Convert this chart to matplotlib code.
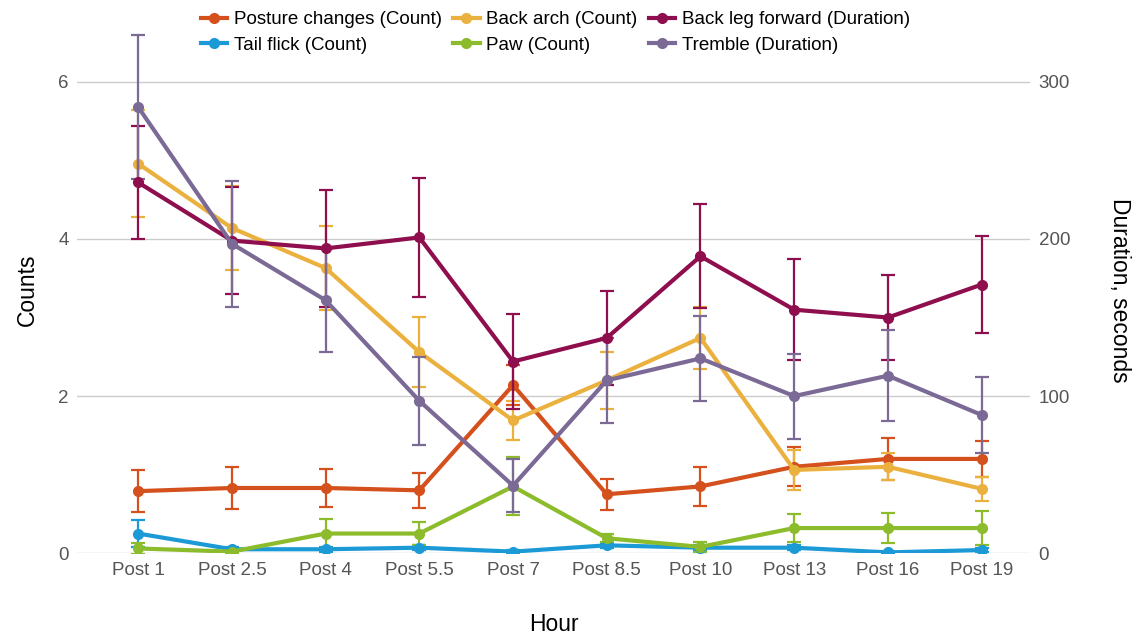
import numpy as np
import matplotlib
matplotlib.use("Agg")
import matplotlib.pyplot as plt

plt.rcParams['font.family'] = ['Liberation Sans', 'DejaVu Sans']

hours = ['Post 1', 'Post 2.5', 'Post 4', 'Post 5.5', 'Post 7',
         'Post 8.5', 'Post 10', 'Post 13', 'Post 16', 'Post 19']

# counts (left axis)
posture = [0.79, 0.83, 0.83, 0.80, 2.14, 0.75, 0.85, 1.10, 1.20, 1.20]
posture_err = [0.27, 0.27, 0.24, 0.22, 0.25, 0.20, 0.25, 0.25, 0.27, 0.23]
arch = [4.96, 4.14, 3.63, 2.56, 1.69, 2.20, 2.74, 1.06, 1.10, 0.82]
arch_err = [0.68, 0.54, 0.53, 0.45, 0.25, 0.36, 0.40, 0.25, 0.17, 0.15]
tail = [0.25, 0.05, 0.05, 0.07, 0.02, 0.10, 0.07, 0.07, 0.01, 0.04]
tail_err = [0.17, 0.03, 0.03, 0.03, 0.02, 0.03, 0.03, 0.03, 0.02, 0.03]
paw = [0.06, 0.02, 0.25, 0.25, 0.85, 0.19, 0.08, 0.32, 0.32, 0.32]
paw_err = [0.07, 0.02, 0.19, 0.15, 0.37, 0.05, 0.06, 0.18, 0.19, 0.22]

# durations in seconds (right axis)
backleg = [236, 199, 194, 201, 122, 137, 189, 155, 150, 171]
backleg_err = [36, 34, 37, 38, 30, 30, 33, 32, 27, 31]
tremble = [284, 197, 161, 97, 43, 110, 124, 100, 113, 88]
tremble_err = [46, 40, 33, 28, 17, 27, 27, 27, 29, 24]

c_posture = '#D4501C'
c_arch = '#EBB13F'
c_backleg = '#8E0E4E'
c_tail = '#1C9AD6'
c_paw = '#8CBB2C'
c_tremble = '#7B6A96'

fig = plt.figure(figsize=(11.36, 6.41), dpi=100)
ax = fig.add_axes([0.068, 0.137, 0.839, 0.821])
ax2 = ax.twinx()

x = np.arange(len(hours))
ymax = 6.7
kw = dict(lw=3.0, marker='o', ms=7, elinewidth=1.6, capsize=5, capthick=1.6)

handles = {}
handles['Posture changes (Count)'] = ax.errorbar(x, posture, yerr=posture_err, color=c_posture, **kw)
handles['Back arch (Count)'] = ax.errorbar(x, arch, yerr=arch_err, color=c_arch, **kw)
handles['Tail flick (Count)'] = ax.errorbar(x, tail, yerr=tail_err, color=c_tail, **kw)
handles['Paw (Count)'] = ax.errorbar(x, paw, yerr=paw_err, color=c_paw, **kw)
handles['Back leg forward (Duration)'] = ax2.errorbar(x, backleg, yerr=backleg_err, color=c_backleg, **kw)
handles['Tremble (Duration)'] = ax2.errorbar(x, tremble, yerr=tremble_err, color=c_tremble, **kw)

ax.set_xlim(-0.65, 9.52)
ax.set_ylim(0, ymax)
ax2.set_ylim(0, ymax * 50)
ax.set_yticks([0, 2, 4, 6])
ax2.set_yticks([0, 100, 200, 300])
ax.set_xticks(x)
ax.set_xticklabels(hours)

ax.grid(axis='y', color='#cccccc', lw=1)
ax.set_axisbelow(True)
for a in (ax, ax2):
    for s in a.spines.values():
        s.set_visible(False)
    a.tick_params(length=0, labelsize=13.5, labelcolor='#555555', pad=6)

ax.set_xlabel('Hour', fontsize=16.5, labelpad=25)
ax.set_ylabel('Counts', fontsize=16.5, labelpad=14)
ax2.set_ylabel('Duration, seconds', fontsize=16.5, rotation=270, labelpad=44)

order = ['Posture changes (Count)', 'Tail flick (Count)',
         'Back arch (Count)', 'Paw (Count)',
         'Back leg forward (Duration)', 'Tremble (Duration)']
leg_handles = [plt.Line2D([], [], color=handles[k][0].get_color(), lw=3.0,
                          marker='o', ms=7) for k in order]
fig.legend(leg_handles, order, ncol=3, loc='upper left',
           bbox_to_anchor=(0.162, 1.009), frameon=False, fontsize=13.5,
           handlelength=1.4, handletextpad=0.35, columnspacing=0.62,
           labelspacing=0.45)

fig.savefig('out.png', dpi=100)
